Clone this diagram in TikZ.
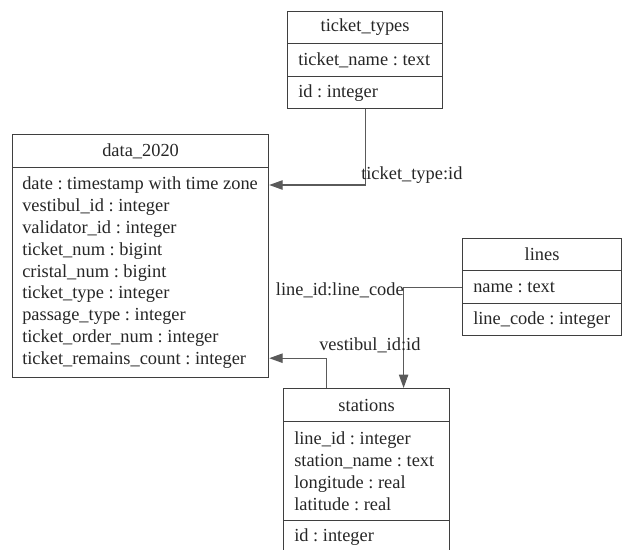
\documentclass[tikz,border=0pt]{standalone}
\usepackage{fontspec}
\setmainfont{Liberation Serif}
\usetikzlibrary{arrows.meta}
\definecolor{edge}{HTML}{3F3F3F}
\definecolor{wire}{HTML}{5A5A5A}
\definecolor{ink}{HTML}{262626}
\newlength{\px}
\setlength{\px}{0.75pt}
\begin{document}
\begin{tikzpicture}[x=0.75pt, y=-0.75pt,
  every node/.style={font=\frenchspacing\fontsize{13.8}{16.4}\selectfont, text=ink},
  cell/.style n args={2}{draw=edge, line width=0.9pt, anchor=north west,
    inner sep=0pt, minimum width=#1\px, minimum height=#2\px},
  txt/.style={inner sep=0pt, anchor=west, align=left},
  lbl/.style={inner sep=0pt},
  conn/.style={draw=wire, line width=0.8pt,
    -{Triangle[length=10pt, width=7pt, fill=wire]}}
]
\useasboundingbox (0,0) rectangle (622,550);

% ticket_types
\node[cell={155}{32}] (tt-h) at (287,11) {ticket\_types};
\node[cell={155}{33}] (tt-r1) at (287,43) {};
\node[cell={155}{32}] (tt-r2) at (287,76) {};
\node[txt] (tt-t1) at ([xshift=11\px]tt-r1.west) {ticket\_name : text};
\node[txt] (tt-t2) at ([xshift=11\px]tt-r2.west) {id : integer};

% data_2020
\node[cell={256}{33}] (d-h) at (12,134) {data\_2020};
\node[cell={256}{210}] (d-b) at (12,167) {};
\node[txt] (d-t) at ([xshift=10\px]d-b.west) {date : timestamp with time zone\\
vestibul\_id : integer\\
validator\_id : integer\\
ticket\_num : bigint\\
cristal\_num : bigint\\
ticket\_type : integer\\
passage\_type : integer\\
ticket\_order\_num : integer\\
ticket\_remains\_count : integer};

% lines
\node[cell={159}{32}] (l-h) at (462,238) {lines};
\node[cell={159}{33}] (l-r1) at (462,270) {};
\node[cell={159}{32}] (l-r2) at (462,303) {};
\node[txt] (l-t1) at ([xshift=11\px]l-r1.west) {name : text};
\node[txt] (l-t2) at ([xshift=11\px]l-r2.west) {line\_code : integer};

% stations
\node[cell={166}{33}] (st-h) at (283,388) {stations};
\node[cell={166}{99}] (st-b) at (283,421) {};
\node[cell={166}{33}] (st-r) at (283,520) {};
\node[txt] (st-t1) at ([xshift=11\px]st-b.west) {line\_id : integer\\
station\_name : text\\
longitude : real\\
latitude : real};
\node[txt] (st-t2) at ([xshift=11\px]st-r.west) {id : integer};

% references
\draw[conn] (tt-r2.south) |- ([yshift=-18\px]d-b.north east);
\draw[conn] (l-r1.west) -| ([xshift=37\px]st-h.north);
\draw[conn] ([xshift=-40\px]st-h.north) |- ([yshift=20\px]d-b.south east);

% reference labels
\node[lbl, anchor=west] (lab1) at (361,175) {ticket\_type:id};
\node[lbl, anchor=east] (lab2) at (404,290) {line\_id:line\_code};
\node[lbl, anchor=west] (lab3) at (319,345) {vestibul\_id:id};
\end{tikzpicture}
\end{document}
